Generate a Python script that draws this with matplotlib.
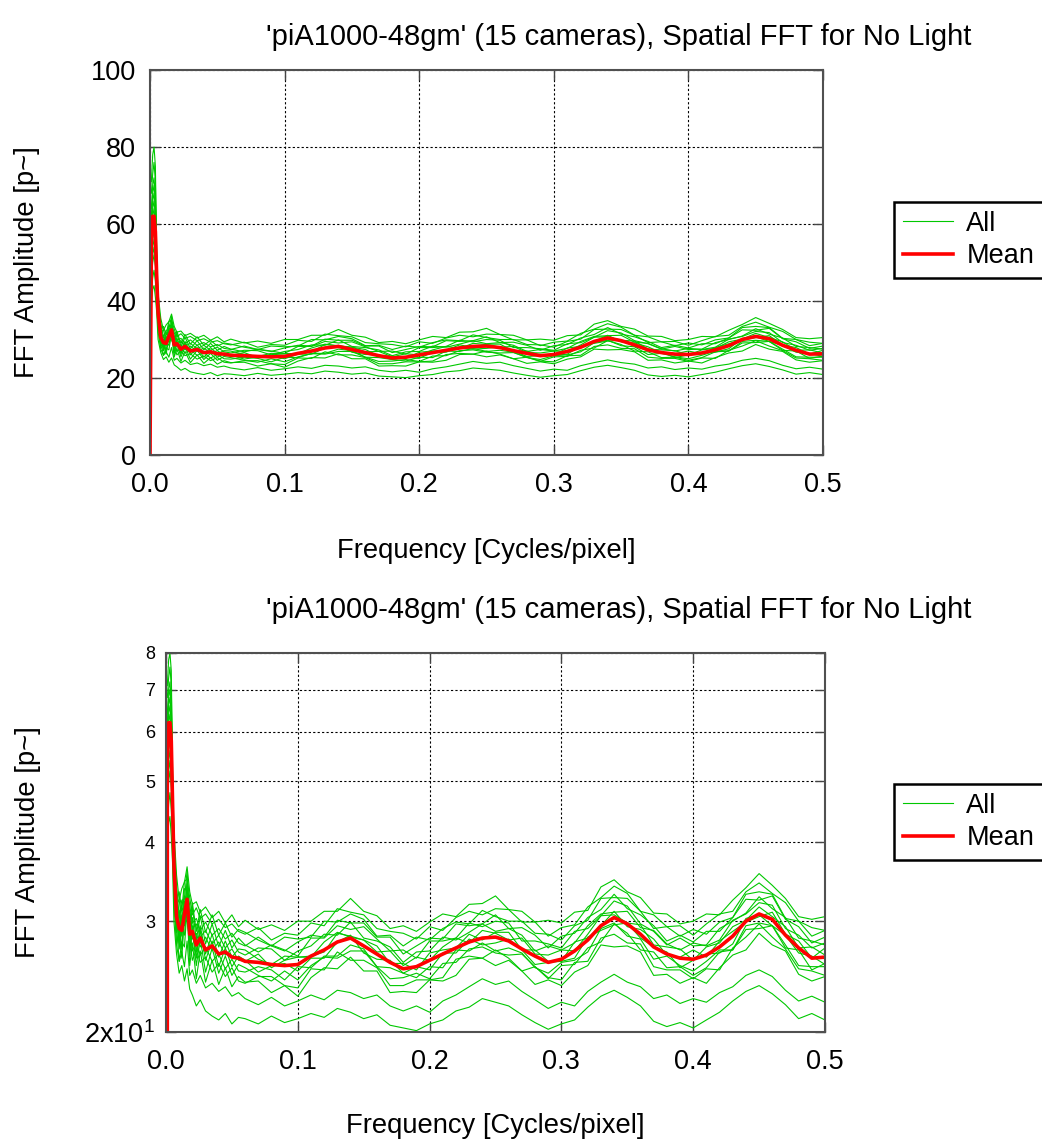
import numpy as np
import matplotlib
matplotlib.use('Agg')
import matplotlib.pyplot as plt

plt.rcParams['font.family'] = ['Liberation Sans', 'DejaVu Sans']
plt.rcParams['mathtext.fontset'] = 'custom'
plt.rcParams['mathtext.rm'] = 'Liberation Sans'

TITLE = "'piA1000-48gm' (15 cameras), Spatial FFT for No Light"

# frequency bins [cycles/pixel]
freq = [0.0, 0.001, 0.002, 0.003, 0.004, 0.005, 0.006,
        0.008, 0.010, 0.012, 0.014, 0.016, 0.018, 0.020, 0.023, 0.026,
        0.030, 0.035, 0.040, 0.045, 0.050, 0.055,
        0.06, 0.07, 0.08, 0.09, 0.10, 0.11, 0.12, 0.13, 0.14, 0.15,
        0.16, 0.17, 0.18, 0.19, 0.20, 0.21, 0.22, 0.23, 0.24, 0.25,
        0.26, 0.27, 0.28, 0.29, 0.30, 0.31, 0.32, 0.33, 0.34, 0.35,
        0.36, 0.37, 0.38, 0.39, 0.40, 0.41, 0.42, 0.43, 0.44, 0.45,
        0.46, 0.47, 0.48, 0.49, 0.50]

# mean over the cameras
mean_amp = [0, 55, 62, 62, 58, 46, 37,
            30.5, 29.2, 29.0, 30.8, 32.5, 28.6, 28.9, 27.5, 28.2,
            27.0, 27.4, 26.6, 26.8, 26.3, 26.2,
            25.9, 25.8, 25.6, 25.5, 25.6, 26.4, 27.0, 27.8, 28.2, 27.4,
            26.6, 25.8, 25.2, 25.4, 26.0, 26.6, 27.2, 27.8, 28.2, 28.3,
            27.9, 27.1, 26.4, 25.8, 26.1, 26.9, 28.0, 29.5, 30.4, 29.7,
            28.6, 27.3, 26.6, 26.2, 26.1, 26.5, 27.3, 28.4, 30.0, 30.8,
            30.2, 28.5, 27.2, 26.2, 26.3]

# one row per camera (no DC value)
cam_amp = [
    [None, 71, 78, 80, 75, 52, 42,
     35.5, 32.4, 33.8, 34.6, 36.6, 33.4, 31.9, 32.2, 31.0, 31.6, 30.4, 31.1, 29.8, 30.7, 29.4,
     30.1, 29.1, 29.6, 29.0, 30.0, 30.0, 31.1, 31.1, 32.6, 31.1, 30.6, 29.2, 29.5, 28.9, 29.9,
     30.8, 30.5, 31.9, 32.0, 32.9, 31.3, 31.1, 29.9, 30.1, 29.8, 31.0, 31.2, 34.0, 34.9, 33.4,
     32.7, 30.9, 30.8, 29.7, 30.0, 30.8, 30.7, 32.4, 33.9, 35.7, 34.2, 32.6, 30.5, 30.2, 30.5],
    [None, 68, 73, 76, 71, 51, 41,
     32.5, 33.4, 31.2, 34.7, 35.0, 32.7, 30.7, 31.5, 30.3, 30.8, 29.7, 30.2, 29.3, 29.7, 28.9,
     28.6, 29.3, 28.0, 28.7, 28.5, 29.8, 29.5, 31.4, 31.0, 30.7, 29.2, 28.9, 28.7, 28.1, 29.4,
     29.0, 30.4, 31.1, 30.7, 31.4, 31.3, 29.9, 29.9, 28.4, 29.3, 29.6, 31.6, 32.7, 34.1, 33.2,
     31.1, 30.7, 29.4, 29.5, 28.5, 29.7, 30.8, 31.1, 33.4, 34.5, 33.2, 32.1, 30.0, 29.3, 29.0],
    [None, 64, 70, 72, 67, 50, 40,
     34.2, 30.5, 32.4, 32.5, 36.1, 30.1, 32.1, 28.9, 31.3, 28.8, 30.7, 28.5, 29.8, 28.3, 29.1,
     28.8, 28.0, 27.4, 28.3, 28.1, 28.3, 30.0, 29.9, 30.8, 30.2, 28.4, 28.5, 27.4, 28.3, 28.0,
     29.2, 29.9, 29.7, 31.2, 30.5, 30.0, 30.0, 28.7, 28.6, 28.0, 29.5, 30.1, 32.6, 32.7, 32.6,
     31.1, 29.2, 29.4, 28.4, 29.1, 28.6, 29.9, 30.4, 33.1, 33.4, 33.1, 30.3, 30.0, 28.4, 29.0],
    [None, 62, 68, 70, 66, 49, 40,
     31.8, 32.5, 29.7, 33.8, 33.5, 31.8, 29.8, 30.3, 29.0, 29.9, 28.5, 29.2, 28.1, 28.7, 27.7,
     27.4, 28.3, 27.4, 26.9, 27.8, 28.5, 28.3, 30.1, 29.8, 29.8, 28.3, 28.3, 26.6, 27.4, 28.2,
     28.1, 29.7, 29.5, 29.7, 30.7, 29.2, 29.3, 28.5, 27.2, 28.4, 28.7, 30.4, 31.3, 33.1, 31.4,
     30.7, 29.5, 27.9, 28.5, 27.8, 28.9, 28.9, 30.4, 32.5, 32.4, 32.9, 30.2, 29.4, 27.7, 28.3],
    [None, 61, 66, 68, 64, 48, 39,
     33.4, 29.3, 31.5, 31.0, 34.7, 29.0, 31.6, 28.0, 30.6, 27.6, 29.7, 27.3, 29.0, 27.2, 28.2,
     27.5, 26.8, 27.5, 27.0, 26.4, 28.2, 28.2, 29.5, 29.1, 29.4, 28.1, 26.9, 27.0, 26.2, 27.9,
     27.9, 28.2, 29.8, 29.4, 30.0, 29.8, 27.9, 27.9, 27.6, 27.2, 28.9, 29.2, 30.6, 32.3, 31.7,
     29.7, 28.9, 27.5, 28.2, 27.4, 27.5, 29.2, 30.0, 30.9, 32.8, 31.4, 30.4, 28.2, 27.9, 27.5],
    [None, 58, 64, 66, 62, 48, 38,
     30.4, 31.2, 28.7, 32.9, 32.5, 30.9, 29.2, 29.7, 28.3, 29.0, 27.6, 28.5, 27.2, 28.0, 26.8,
     26.5, 27.2, 27.1, 26.0, 26.9, 27.4, 28.6, 28.5, 29.9, 28.2, 27.9, 27.3, 25.8, 26.8, 26.9,
     28.3, 28.0, 28.8, 29.7, 28.9, 29.2, 28.5, 26.9, 27.4, 27.0, 27.7, 29.5, 30.8, 31.0, 31.1,
     29.3, 29.0, 27.6, 27.0, 27.7, 27.4, 28.0, 30.1, 30.8, 32.1, 31.8, 29.2, 28.5, 27.2, 27.7],
    [None, 57, 62, 64, 60, 47, 38,
     31.9, 28.3, 30.7, 30.4, 34.4, 28.0, 30.4, 26.8, 29.5, 26.6, 28.6, 26.3, 27.9, 26.3, 27.1,
     27.0, 26.1, 25.6, 26.4, 26.3, 26.3, 27.8, 28.8, 28.3, 28.0, 26.8, 26.9, 25.5, 26.3, 26.0,
     27.3, 28.2, 27.7, 29.0, 28.7, 28.0, 28.2, 26.6, 26.5, 27.0, 26.9, 28.6, 30.6, 30.7, 29.8,
     29.6, 27.5, 27.3, 27.1, 26.0, 27.3, 27.7, 29.4, 30.1, 31.6, 30.5, 29.4, 27.2, 27.3, 26.5],
    [None, 55, 60, 62, 58, 46, 37,
     29.4, 30.8, 28.4, 32.3, 31.5, 29.9, 28.1, 28.7, 27.3, 28.3, 26.9, 27.8, 26.5, 27.1, 26.0,
     25.9, 26.6, 25.3, 26.0, 26.3, 26.4, 26.8, 28.7, 28.4, 28.0, 27.4, 25.7, 25.7, 25.1, 26.7,
     27.0, 27.2, 28.6, 28.0, 28.8, 28.8, 27.0, 27.0, 25.9, 25.9, 27.8, 28.2, 29.5, 31.1, 29.4,
     29.1, 28.1, 26.5, 26.3, 27.0, 26.3, 27.9, 28.9, 29.9, 30.5, 31.0, 28.6, 27.9, 26.2, 27.2],
    [None, 53, 58, 60, 56, 46, 37,
     31.3, 27.7, 30.1, 29.5, 33.4, 27.0, 29.5, 26.2, 29.0, 26.0, 27.9, 25.4, 27.2, 25.4, 26.4,
     26.0, 24.9, 25.5, 25.7, 25.0, 26.2, 26.2, 27.8, 28.5, 26.7, 26.1, 26.0, 24.8, 25.4, 25.1,
     26.7, 26.7, 28.1, 27.5, 27.7, 28.1, 27.0, 25.6, 25.8, 25.9, 26.2, 28.3, 29.0, 29.6, 29.8,
     28.2, 27.3, 26.8, 25.3, 26.0, 26.6, 26.7, 27.6, 30.3, 30.7, 29.5, 28.5, 26.7, 26.4, 25.6],
    [None, 52, 56, 58, 55, 45, 36,
     28.8, 29.8, 27.1, 31.3, 30.9, 29.0, 26.9, 27.7, 26.5, 27.3, 25.9, 26.6, 25.2, 26.1, 25.0,
     24.9, 25.4, 25.1, 24.2, 25.4, 25.3, 26.4, 26.4, 27.5, 27.1, 25.4, 25.3, 24.8, 24.4, 25.4,
     25.3, 27.0, 26.9, 27.7, 26.9, 27.2, 26.7, 25.3, 24.8, 25.8, 26.0, 26.8, 29.2, 29.8, 28.4,
     28.1, 26.1, 26.4, 25.5, 25.0, 25.9, 27.0, 27.0, 29.5, 29.8, 29.5, 27.2, 27.0, 25.1, 25.7],
    [None, 50, 54, 56, 52, 44, 36,
     30.8, 27.1, 29.2, 28.5, 32.3, 26.4, 29.0, 25.5, 28.1, 24.9, 27.2, 24.8, 26.4, 24.6, 25.6,
     25.3, 24.6, 24.1, 25.0, 24.2, 25.5, 26.3, 26.2, 26.9, 26.9, 25.4, 24.3, 24.4, 24.8, 24.3,
     25.7, 25.8, 27.1, 27.3, 26.7, 26.5, 26.6, 25.4, 24.3, 25.5, 25.6, 27.2, 27.8, 29.7, 28.7,
     27.0, 26.8, 25.3, 25.4, 24.6, 25.3, 26.8, 27.0, 29.1, 29.2, 29.5, 27.5, 25.5, 25.4, 25.4],
    [None, 48, 52, 54, 50, 43, 35,
     27.6, 28.8, 26.2, 30.6, 29.9, 28.1, 26.0, 27.0, 25.8, 26.3, 24.9, 25.7, 24.5, 25.3, 24.1,
     23.9, 24.5, 24.5, 23.7, 23.5, 25.2, 25.1, 26.8, 26.0, 26.0, 25.3, 23.7, 23.7, 24.2, 24.2,
     24.4, 26.1, 26.4, 26.2, 27.0, 26.2, 25.0, 25.4, 24.4, 24.2, 25.8, 25.9, 28.2, 28.6, 27.7,
     27.6, 25.4, 25.1, 25.1, 24.3, 25.2, 25.1, 27.2, 28.3, 29.7, 28.3, 27.1, 25.2, 25.0, 24.6],
    [None, 46, 50, 52, 49, 42, 34,
     29.5, 25.9, 27.8, 27.3, 31.5, 25.5, 27.7, 24.3, 26.9, 24.0, 26.0, 23.8, 25.3, 23.6, 24.5,
     24.0, 24.1, 23.1, 23.7, 22.8, 24.4, 25.3, 25.2, 26.3, 25.0, 25.0, 23.1, 23.2, 23.1, 24.2,
     24.1, 24.6, 26.1, 26.2, 25.5, 26.0, 25.0, 23.8, 24.2, 23.7, 24.9, 25.5, 27.5, 27.3, 27.4,
     26.8, 24.6, 24.7, 23.9, 24.4, 23.9, 25.3, 26.5, 27.0, 28.7, 27.5, 26.9, 24.7, 24.1, 24.5],
    [None, 42, 46, 48, 45, 40, 32,
     27.5, 25.9, 26.8, 25.4, 27.9, 24.6, 25.1, 23.9, 24.6, 23.5, 23.9, 23.2, 23.6, 22.8, 23.1,
     22.6, 22.1, 22.7, 22.0, 22.4, 22.9, 22.5, 23.3, 23.1, 22.6, 22.9, 22.0, 21.6, 22.0, 21.5,
     22.4, 22.9, 23.6, 24.3, 23.8, 24.1, 23.2, 22.5, 21.8, 22.3, 22.0, 23.2, 24.0, 24.7, 24.0,
     23.6, 22.6, 22.9, 22.2, 22.6, 22.3, 23.1, 23.6, 24.6, 25.1, 24.5, 23.3, 22.4, 22.8, 22.3],
    [None, 39, 43, 44, 41, 37, 30,
     26.6, 24.8, 25.5, 24.1, 25.2, 23.4, 22.9, 22.0, 22.5, 21.6, 21.2, 20.9, 21.4, 20.6, 21.1,
     21.0, 20.6, 21.2, 20.7, 21.0, 21.4, 21.1, 21.8, 21.5, 21.0, 21.3, 20.5, 20.3, 20.1, 20.6,
     20.9, 21.6, 21.9, 22.6, 22.3, 22.0, 21.3, 20.7, 20.2, 20.6, 20.9, 21.9, 22.8, 23.3, 22.7,
     22.0, 20.8, 20.4, 20.7, 20.3, 20.9, 21.5, 22.4, 23.2, 23.7, 23.0, 22.1, 21.0, 21.4, 20.9],
]

GREEN = '#00c800'
RED = '#ff0000'
W, H = 1042, 1141


def draw(ax):
    x = np.array(freq)
    for i, row in enumerate(cam_amp):
        ax.plot(x, np.array(row, dtype=float), color=GREEN, lw=0.8,
                label='All' if i == 0 else None)
    ax.plot(x, mean_amp, color=RED, lw=2.6, label='Mean')
    ax.set_xlim(0, 0.5)
    ax.set_xticks([0, 0.1, 0.2, 0.3, 0.4, 0.5])
    ax.set_xticklabels(['0.0', '0.1', '0.2', '0.3', '0.4', '0.5'])
    ax.grid(True, color='black', linestyle=(0, (2, 2)), linewidth=0.8)
    ax.tick_params(direction='in', top=True, right=True, length=7,
                   width=1.0, labelsize=19.5, color='#444444')
    ax.tick_params(axis='x', pad=12)
    ax.tick_params(axis='y', pad=10)
    for sp in ax.spines.values():
        sp.set_color('#505050')
        sp.set_linewidth(1.5)
    ax.set_xlabel('Frequency [Cycles/pixel]', fontsize=19.7)
    ax.set_ylabel('FFT Amplitude [p~]', fontsize=19.7)


def add_legend(ax, top_px):
    leg = ax.legend(loc='upper left', bbox_to_anchor=(894 / W, 1 - top_px / H),
                    bbox_transform=fig.transFigure, borderaxespad=0,
                    fancybox=False, edgecolor='black', framealpha=1,
                    fontsize=19.5, handlelength=1.85, labelspacing=0.25,
                    borderpad=0.32, handletextpad=0.5)
    leg.get_frame().set_linewidth(1.8)


fig = plt.figure(figsize=(W / 100, H / 100), dpi=100)

# linear plot
ax1 = fig.add_axes([150 / W, 1 - 455 / H, 673 / W, 385 / H])
draw(ax1)
ax1.set_ylim(0, 100)
ax1.set_yticks([0, 20, 40, 60, 80, 100])
ax1.xaxis.set_label_coords(0.5, -0.215)
ax1.yaxis.set_label_coords(-0.163, 0.5)
fig.text(619 / W, 1 - 37 / H, TITLE, ha='center', va='center', fontsize=21)
add_legend(ax1, 202)

# log plot
ax2 = fig.add_axes([166 / W, 1 - 1032 / H, 659 / W, 379 / H])
draw(ax2)
ax2.set_yscale('log')
ax2.set_ylim(20, 80)
ax2.yaxis.set_minor_locator(matplotlib.ticker.NullLocator())
ax2.set_yticks([20, 30, 40, 50, 60, 70, 80])
ax2.set_yticklabels([r'$\mathregular{2x10^1}$', '3', '4', '5', '6', '7', '8'])
ax2.tick_params(axis='y', pad=8)
for lbl in ax2.get_yticklabels()[1:]:
    lbl.set_fontsize(13)
ax2.xaxis.set_label_coords(0.5, -0.215)
ax2.yaxis.set_label_coords(-0.19, 0.5)
fig.text(619 / W, 1 - 610 / H, TITLE, ha='center', va='center', fontsize=21)
add_legend(ax2, 784)

fig.savefig('out.png', dpi=100)
